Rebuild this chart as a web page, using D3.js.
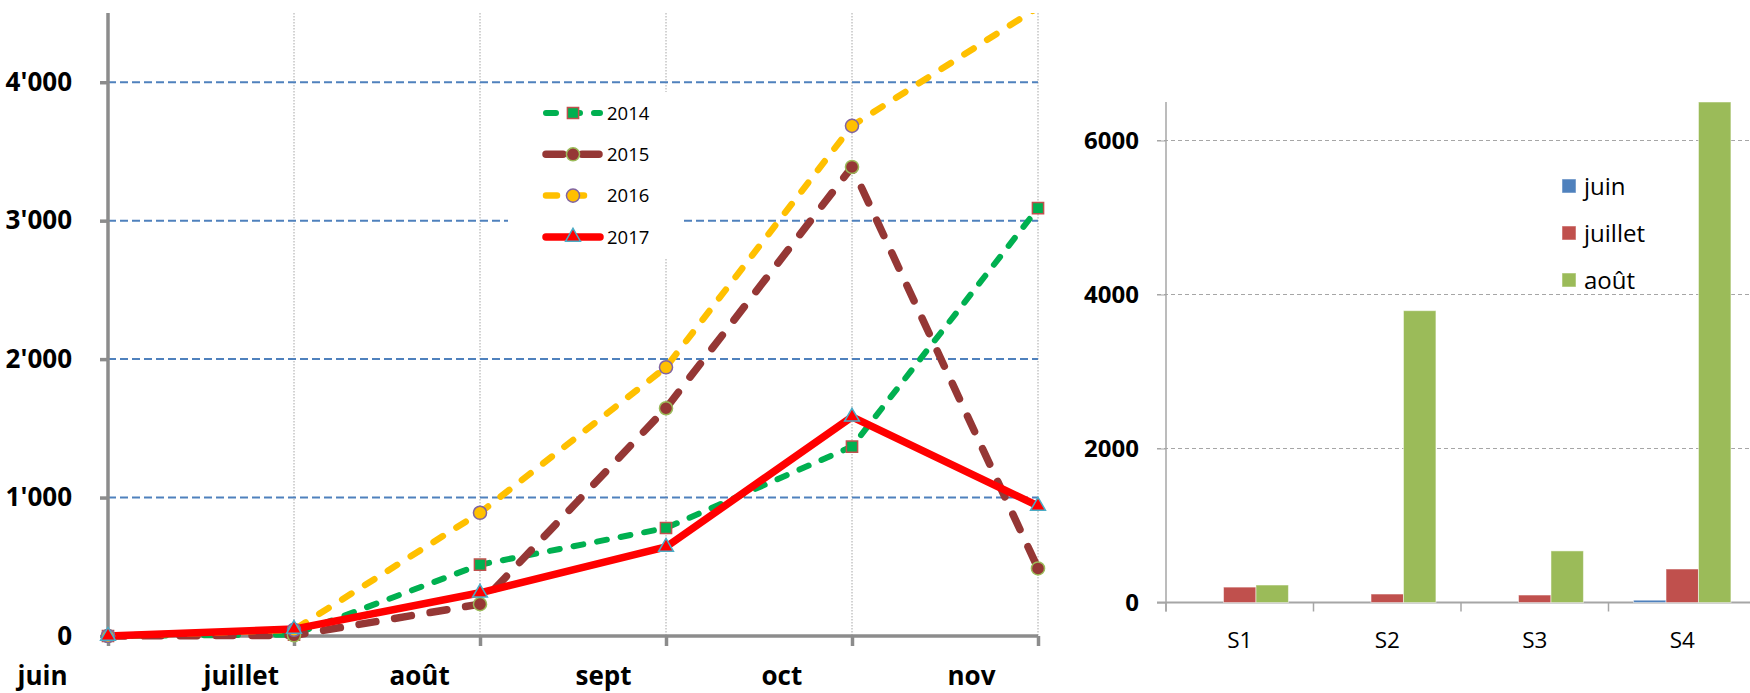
<!DOCTYPE html>
<html>
<head>
<meta charset="utf-8">
<script src="https://cdnjs.cloudflare.com/ajax/libs/d3/7.8.5/d3.min.js"></script>
<style>
  body { margin: 0; background: #fff; }
  svg { display: block; font-family: "Open Sans", Lato, sans-serif; }
</style>
</head>
<body>
<div id="chart"></div>
<script>
// line chart data (left)
const months = ["juin", "juillet", "août", "sept", "oct", "nov"];
const years = ["2014", "2015", "2016", "2017"];
const v2014 = [0, 10, 515, 780, 1368, 3090];
const v2015 = [0, 5, 230, 1645, 3388, 488];
const v2016 = [0, 45, 890, 1941, 3685, 4540];
const v2017 = [0, 50, 312, 643, 1583, 940];
const leftTicks = [0, 1000, 2000, 3000, 4000];

// bar chart data (right)
const weeks = ["S1", "S2", "S3", "S4"];
const barSeries = ["juin", "juillet", "août"];
const juinBars = [0, 0, 0, 30];
const juilletBars = [200, 110, 97, 435];
const aoutBars = [227, 3790, 670, 6500];
const rightTicks = [0, 2000, 4000, 6000];

const width = 1750, height = 693;

const svg = d3.select("#chart")
  .append("svg")
  .attr("width", width)
  .attr("height", height);

// ---------- left chart ----------
const left = {x0: 108, x1: 1038, top: 13, bottom: 636};

const x = d3.scalePoint()
  .domain(months)
  .range([left.x0, left.x1]);

const y = d3.scaleLinear()
  .domain([0, 4500])
  .range([left.bottom, left.top]);

const fmt = d3.formatLocale({decimal: ".", thousands: "'", grouping: [3], currency: ["", ""]}).format(",");

// vertical dotted gridlines
svg.append("g")
  .selectAll("line")
  .data(months)
  .join("line")
    .attr("x1", d => x(d)).attr("x2", d => x(d))
    .attr("y1", left.top).attr("y2", left.bottom)
    .attr("stroke", "#a6a6a6")
    .attr("stroke-width", 1)
    .attr("stroke-dasharray", "1.5,1.5");

// horizontal blue dashed gridlines
svg.append("g")
  .selectAll("line")
  .data(leftTicks.slice(1))
  .join("line")
    .attr("x1", left.x0).attr("x2", left.x1)
    .attr("y1", d => y(d)).attr("y2", d => y(d))
    .attr("stroke", "#4f81bd")
    .attr("stroke-width", 2)
    .attr("stroke-dasharray", "8,4");

// Y axis
const yAxis = svg.append("g")
  .attr("transform", `translate(${left.x0}, 0)`)
  .call(d3.axisLeft(y).tickValues(leftTicks).tickSize(8).tickSizeOuter(0).tickPadding(28).tickFormat(fmt));
yAxis.select(".domain").attr("stroke", "#8c8c8c").attr("stroke-width", 3.5)
  .attr("d", `M0,${left.top}V${left.bottom}`);
yAxis.selectAll(".tick line").attr("stroke", "#8c8c8c").attr("stroke-width", 3.5);
yAxis.selectAll(".tick text")
  .attr("font-size", 26).attr("font-weight", "bold").attr("fill", "#000")
  .attr("font-family", "'Open Sans', sans-serif");

// X axis
const xAxis = svg.append("g")
  .attr("transform", `translate(0, ${left.bottom})`)
  .call(d3.axisBottom(x).tickSize(10).tickSizeOuter(0));
xAxis.select(".domain").attr("stroke", "#8c8c8c").attr("stroke-width", 3.5)
  .attr("d", `M${left.x0 - 4},0H${left.x1}`);
xAxis.selectAll(".tick line").attr("stroke", "#8c8c8c").attr("stroke-width", 3.5);
xAxis.selectAll(".tick text")
  .attr("text-anchor", "start")
  .attr("x", -91)
  .attr("y", 49)
  .attr("dy", 0)
  .attr("font-size", 26).attr("font-weight", "bold").attr("fill", "#000")
  .attr("font-family", "'Open Sans', sans-serif");

// series styles
const series = [
  {name: "2014", values: v2014, color: "#00b050", width: 6, dash: "10,14", marker: "square", mfill: "#00b050", mstroke: "#c0504d"},
  {name: "2015", values: v2015, color: "#953735", width: 7.5, dash: "17,19", marker: "circle", mfill: "#953735", mstroke: "#9bbb59"},
  {name: "2016", values: v2016, color: "#ffc000", width: 6.5, dash: "11,16", marker: "circle", mfill: "#ffc000", mstroke: "#8064a2"},
  {name: "2017", values: v2017, color: "#ff0000", width: 7.5, dash: null, marker: "triangle", mfill: "#ff0000", mstroke: "#4bacc6"}
];

svg.append("clipPath").attr("id", "plotclip")
  .append("rect")
    .attr("x", 0).attr("y", left.top)
    .attr("width", width).attr("height", height - left.top);

const line = d3.line()
  .x((d, i) => x(months[i]))
  .y(d => y(d));

const symbolFor = {
  square: d3.symbol().type(d3.symbolSquare).size(125),
  circle: d3.symbol().type(d3.symbolCircle).size(135),
  triangle: d3.symbol().type(d3.symbolTriangle).size(95)
};

series.forEach(s => {
  svg.append("path")
    .datum(s.values)
    .attr("clip-path", "url(#plotclip)")
    .attr("d", line)
    .attr("fill", "none")
    .attr("stroke", s.color)
    .attr("stroke-width", s.width)
    .attr("stroke-linecap", s.dash ? "round" : "butt")
    .attr("stroke-linejoin", "round")
    .attr("stroke-dasharray", s.dash);
});

series.forEach(s => {
  svg.append("g")
    .selectAll("path")
    .data(s.values.filter(v => v <= 4500).map((v, i) => ({v, i})))
    .join("path")
      .attr("transform", d => `translate(${x(months[d.i])}, ${y(d.v)})`)
      .attr("d", symbolFor[s.marker])
      .attr("fill", s.mfill)
      .attr("stroke", s.mstroke)
      .attr("stroke-width", 1.5);
});

// legend (white box hides gridlines behind it)
svg.append("rect")
  .attr("x", 508).attr("y", 92)
  .attr("width", 176).attr("height", 166)
  .attr("fill", "#fff");

const leg = svg.append("g")
  .selectAll("g")
  .data(series)
  .join("g")
    .attr("transform", (d, i) => `translate(0, ${113 + i * 41.3})`);

leg.append("line")
  .attr("x1", 546).attr("x2", 600)
  .attr("stroke", d => d.color)
  .attr("stroke-width", d => d.width)
  .attr("stroke-linecap", "round")
  .attr("stroke-dasharray", d => d.dash);

leg.append("path")
  .attr("transform", "translate(573, 0)")
  .attr("d", d => symbolFor[d.marker]())
  .attr("fill", d => d.mfill)
  .attr("stroke", d => d.mstroke)
  .attr("stroke-width", 1.5);

leg.append("text")
  .attr("x", 607)
  .attr("dy", "0.36em")
  .attr("font-size", 18.5)
  .text(d => d.name);

// ---------- right chart ----------
const right = {x0: 1166, x1: 1756, top: 102, bottom: 602.5};

const x0 = d3.scaleBand()
  .domain(weeks)
  .range([right.x0, right.x1])
  .paddingInner(0.34)
  .paddingOuter(0.17);

const x1 = d3.scaleBand()
  .domain(barSeries)
  .range([0, x0.bandwidth()]);

const y2 = d3.scaleLinear()
  .domain([0, 6500])
  .range([right.bottom, right.top]);

const barColor = d3.scaleOrdinal()
  .domain(barSeries)
  .range(["#4f81bd", "#c0504d", "#9bbb59"]);

// gridlines
svg.append("g")
  .selectAll("line")
  .data(rightTicks.slice(1))
  .join("line")
    .attr("x1", right.x0 - 9).attr("x2", width)
    .attr("y1", d => y2(d)).attr("y2", d => y2(d))
    .attr("stroke", "#a6a6a6")
    .attr("stroke-width", 1)
    .attr("stroke-dasharray", "4,3");

// y axis
const y2Axis = svg.append("g")
  .attr("transform", `translate(${right.x0}, 0)`)
  .call(d3.axisLeft(y2).tickValues(rightTicks).tickSize(9).tickSizeOuter(0).tickPadding(18).tickFormat(d3.format("d")));
y2Axis.select(".domain").attr("stroke", "#a6a6a6").attr("stroke-width", 1.5)
  .attr("d", `M0,${right.top}V${right.bottom + 9}`);
y2Axis.selectAll(".tick line").attr("stroke", "#a6a6a6").attr("stroke-width", 1);
y2Axis.selectAll(".tick text")
  .attr("font-size", 24).attr("font-weight", "bold").attr("fill", "#000")
  .attr("font-family", "'Open Sans', sans-serif");

// x axis with ticks between groups
const x2Axis = svg.append("g")
  .attr("transform", `translate(0, ${right.bottom})`);
x2Axis.append("line")
  .attr("x1", right.x0 - 9).attr("x2", width)
  .attr("stroke", "#a6a6a6").attr("stroke-width", 2);
x2Axis.selectAll(".sep")
  .data(weeks)
  .join("line")
    .attr("class", "sep")
    .attr("x1", d => x0(d) - x0.step() * 0.17).attr("x2", d => x0(d) - x0.step() * 0.17)
    .attr("y1", 0).attr("y2", 9)
    .attr("stroke", "#a6a6a6").attr("stroke-width", 1.5);
x2Axis.selectAll("text")
  .data(weeks)
  .join("text")
    .attr("x", d => x0(d) + x0.bandwidth() / 2)
    .attr("y", 45)
    .attr("text-anchor", "middle")
    .attr("font-size", 22.5)
    .text(d => d);

// bars
const barData = weeks.map((w, i) => ({
  week: w,
  values: [juinBars[i], juilletBars[i], aoutBars[i]]
}));

svg.append("g")
  .selectAll("g")
  .data(barData)
  .join("g")
    .attr("transform", d => `translate(${x0(d.week)}, 0)`)
  .selectAll("rect")
  .data(d => barSeries.map((key, j) => ({key: key, value: d.values[j]})))
  .join("rect")
    .attr("x", d => x1(d.key))
    .attr("y", d => y2(d.value))
    .attr("width", x1.bandwidth())
    .attr("height", d => right.bottom - y2(d.value))
    .attr("fill", d => barColor(d.key))
    .attr("stroke", "#ffffff")
    .attr("stroke-opacity", 0.5)
    .attr("stroke-width", 1);

// legend
const leg2 = svg.append("g")
  .selectAll("g")
  .data(barSeries)
  .join("g")
    .attr("transform", (d, i) => `translate(1562, ${186 + i * 47})`);

leg2.append("rect")
  .attr("y", -7)
  .attr("width", 14).attr("height", 14)
  .attr("fill", d => barColor(d))
  .attr("stroke", "#ffffff").attr("stroke-opacity", 0.5);

leg2.append("text")
  .attr("x", 22)
  .attr("dy", "0.36em")
  .attr("font-size", 24)
  .text(d => d);
</script>
</body>
</html>
